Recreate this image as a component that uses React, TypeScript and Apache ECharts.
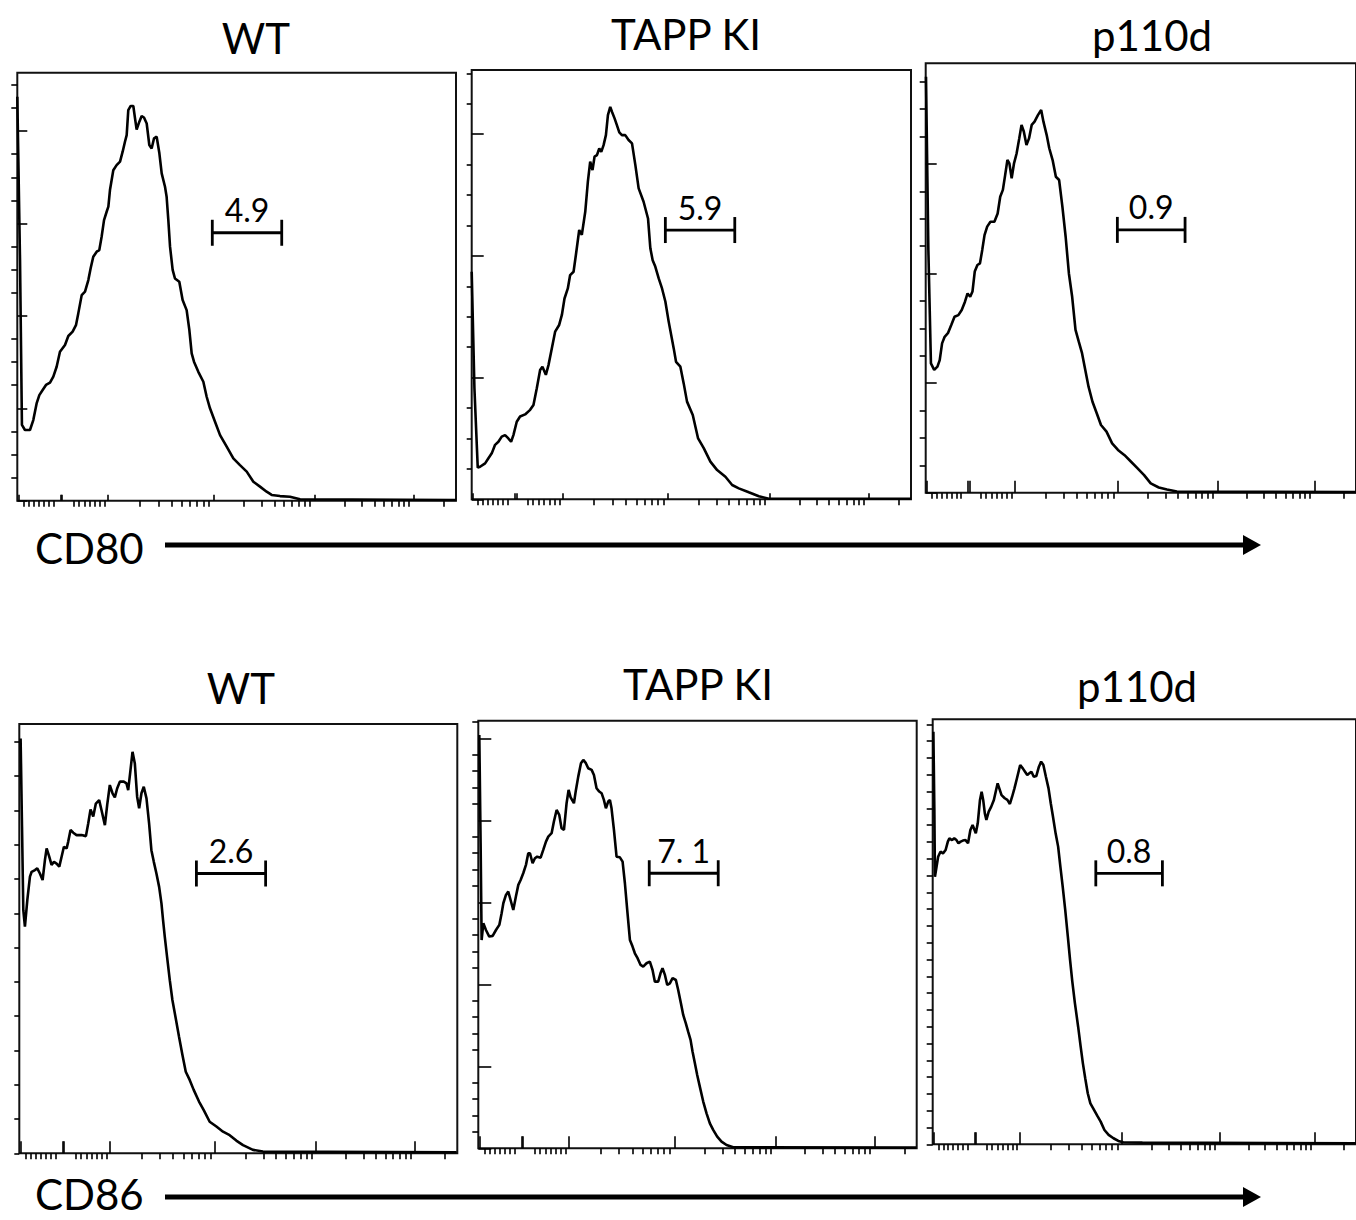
import React, { useEffect, useRef } from "react";
import * as echarts from "echarts";

// ---------- data (x in display decades of the biexponential axis, y in count-tick units) ----------
const titles = ["WT", "TAPP KI", "p110d", "WT", "TAPP KI", "p110d"];
const markerLabels = ["CD80", "CD86"];
const gateLabels = ["4.9", "5.9", "0.9", "2.6", "7. 1", "0.8"];

const cd80WT = [[0,17.49],[0.027,10.42],[0.046,3.28],[0.076,3.06],[0.126,3.06],[0.159,3.49],[0.192,4.21],[0.219,4.57],[0.252,4.79],[0.285,5.01],[0.325,5.11],[0.358,5.37],[0.391,5.8],[0.424,6.45],[0.474,6.74],[0.507,7.13],[0.55,7.32],[0.583,7.6],[0.606,8.11],[0.64,8.9],[0.673,9.05],[0.706,9.55],[0.729,10.06],[0.755,10.56],[0.789,10.78],[0.815,10.85],[0.838,11.43],[0.862,12.15],[0.888,12.51],[0.905,12.73],[0.921,13.45],[0.954,14.31],[0.987,14.53],[1.021,14.68],[1.047,15.11],[1.07,15.54],[1.087,15.83],[1.103,16.91],[1.127,17.09],[1.153,17.09],[1.17,16.55],[1.186,16.07],[1.213,16.41],[1.236,16.65],[1.259,16.59],[1.286,16.33],[1.312,15.4],[1.335,15.25],[1.359,15.69],[1.385,15.76],[1.412,15.04],[1.435,14.17],[1.468,13.59],[1.484,13.16],[1.501,12.15],[1.518,11.0],[1.544,9.99],[1.567,9.62],[1.61,9.48],[1.643,8.69],[1.683,8.25],[1.71,7.39],[1.733,6.38],[1.756,6.02],[1.799,5.58],[1.849,5.15],[1.882,4.5],[1.915,4.0],[1.965,3.42],[2.015,2.84],[2.081,2.34],[2.147,1.83],[2.213,1.54],[2.28,1.26],[2.346,0.82],[2.412,0.61],[2.478,0.39],[2.528,0.25],[2.611,0.2],[2.71,0.17],[2.81,0.06],[4.36,0.03]];

const cd80TAPP = [[0,7.48],[0.027,3.65],[0.06,1.04],[0.083,1.07],[0.133,1.18],[0.166,1.35],[0.199,1.51],[0.232,1.79],[0.265,1.89],[0.298,2.06],[0.331,2.11],[0.364,2.0],[0.391,1.89],[0.414,2.11],[0.447,2.55],[0.48,2.72],[0.53,2.79],[0.58,2.94],[0.613,3.1],[0.646,3.65],[0.679,4.25],[0.702,4.36],[0.736,4.09],[0.762,4.41],[0.795,4.96],[0.828,5.51],[0.868,5.73],[0.895,6.06],[0.921,6.6],[0.954,6.93],[0.977,7.37],[1.011,7.48],[1.034,8.03],[1.067,8.85],[1.093,8.69],[1.127,9.45],[1.153,10.44],[1.176,11.1],[1.199,10.82],[1.219,11.26],[1.243,11.31],[1.266,11.53],[1.286,11.42],[1.309,11.64],[1.332,11.97],[1.352,12.63],[1.375,12.9],[1.392,12.74],[1.418,12.52],[1.441,12.3],[1.465,12.06],[1.491,11.97],[1.524,11.97],[1.557,11.81],[1.591,11.7],[1.624,10.99],[1.657,10.22],[1.706,9.78],[1.75,9.23],[1.773,8.25],[1.796,7.86],[1.822,7.65],[1.856,7.26],[1.889,6.93],[1.922,6.5],[1.955,5.84],[2.005,4.96],[2.028,4.52],[2.071,4.36],[2.104,3.81],[2.137,3.21],[2.194,2.77],[2.247,2.0],[2.303,1.68],[2.369,1.24],[2.436,0.96],[2.518,0.74],[2.585,0.47],[2.651,0.36],[2.75,0.23],[2.85,0.1],[2.949,0.02],[4.36,0.02]];

const cd80P110 = [[0.003,15.18],[0.027,8.86],[0.053,4.72],[0.086,4.48],[0.119,4.6],[0.142,4.84],[0.166,5.45],[0.192,5.69],[0.225,5.82],[0.259,6.12],[0.292,6.42],[0.331,6.48],[0.365,6.67],[0.398,6.97],[0.424,7.27],[0.451,7.15],[0.474,7.34],[0.497,8.07],[0.524,8.31],[0.55,8.37],[0.573,8.86],[0.596,9.4],[0.623,9.71],[0.656,9.89],[0.696,9.89],[0.729,10.19],[0.755,10.8],[0.782,11.05],[0.805,11.59],[0.828,12.14],[0.848,12.02],[0.871,11.47],[0.895,12.02],[0.921,12.38],[0.948,12.93],[0.971,13.42],[0.994,13.18],[1.021,12.69],[1.047,12.93],[1.074,13.42],[1.103,13.54],[1.137,13.78],[1.17,13.97],[1.193,13.54],[1.226,13.05],[1.252,12.57],[1.286,12.14],[1.319,11.53],[1.352,11.41],[1.385,10.44],[1.418,9.34],[1.451,8.0],[1.484,7.15],[1.518,5.94],[1.551,5.51],[1.584,5.09],[1.617,4.48],[1.65,3.87],[1.69,3.32],[1.733,2.9],[1.776,2.47],[1.832,2.23],[1.889,1.8],[1.948,1.56],[2.015,1.37],[2.081,1.13],[2.147,0.89],[2.213,0.64],[2.28,0.34],[2.362,0.19],[2.445,0.12],[2.545,0.04],[4.36,0.02]];

const cd86WT = [[0.013,12.1],[0.027,9.52],[0.04,7.09],[0.056,6.61],[0.08,7.39],[0.106,8.07],[0.123,8.21],[0.156,8.26],[0.179,8.31],[0.205,8.16],[0.232,7.97],[0.255,8.55],[0.272,8.89],[0.298,8.65],[0.321,8.41],[0.345,8.5],[0.371,8.45],[0.398,8.36],[0.421,8.65],[0.444,8.94],[0.471,8.89],[0.487,9.09],[0.51,9.43],[0.537,9.35],[0.57,9.28],[0.62,9.28],[0.663,9.25],[0.686,9.62],[0.709,10.03],[0.736,9.82],[0.762,10.2],[0.795,10.3],[0.818,10.01],[0.852,9.57],[0.875,10.16],[0.901,10.74],[0.928,10.5],[0.951,10.38],[0.974,10.64],[1.001,10.84],[1.04,10.84],[1.067,10.79],[1.084,10.59],[1.107,11.18],[1.127,11.71],[1.15,11.37],[1.173,10.4],[1.193,10.06],[1.216,10.5],[1.239,10.69],[1.266,10.35],[1.292,9.62],[1.315,8.84],[1.339,8.5],[1.365,8.16],[1.392,7.77],[1.415,7.29],[1.431,6.8],[1.448,6.32],[1.471,5.73],[1.498,5.05],[1.524,4.47],[1.557,3.94],[1.59,3.4],[1.624,2.87],[1.657,2.38],[1.696,2.14],[1.736,1.85],[1.789,1.51],[1.836,1.26],[1.895,0.92],[1.962,0.78],[2.028,0.63],[2.094,0.53],[2.16,0.37],[2.227,0.24],[2.326,0.1],[2.425,0.05],[4.354,0.03]];

const cd86TAPP = [[0.01,25.2],[0.023,18.6],[0.033,12.7],[0.05,13.72],[0.076,13.31],[0.109,12.91],[0.143,12.95],[0.176,13.31],[0.209,13.62],[0.232,14.33],[0.249,14.94],[0.275,15.45],[0.298,15.65],[0.321,15.14],[0.348,14.53],[0.374,15.35],[0.398,16.06],[0.421,16.36],[0.447,16.77],[0.474,17.28],[0.497,17.99],[0.514,17.99],[0.54,17.38],[0.563,17.68],[0.586,17.78],[0.62,17.72],[0.646,18.19],[0.673,18.7],[0.696,19.0],[0.729,19.21],[0.752,19.92],[0.779,20.63],[0.805,20.33],[0.828,19.51],[0.852,19.41],[0.878,21.04],[0.898,21.85],[0.918,21.4],[0.951,21.04],[0.971,21.85],[0.994,22.66],[1.021,23.48],[1.044,23.68],[1.07,23.48],[1.093,23.17],[1.127,23.07],[1.15,22.76],[1.176,21.95],[1.203,21.75],[1.226,21.65],[1.249,21.24],[1.269,20.73],[1.292,21.14],[1.309,21.24],[1.325,20.73],[1.349,19.41],[1.375,17.78],[1.408,17.74],[1.435,17.48],[1.458,16.16],[1.481,14.53],[1.508,12.7],[1.534,12.3],[1.557,11.89],[1.584,11.59],[1.614,11.18],[1.64,11.08],[1.673,11.28],[1.706,11.38],[1.733,10.87],[1.756,10.16],[1.789,10.16],[1.812,10.67],[1.832,10.98],[1.856,10.57],[1.879,9.96],[1.905,10.06],[1.932,10.37],[1.965,10.26],[1.988,9.65],[2.015,8.84],[2.038,8.13],[2.064,7.62],[2.087,7.11],[2.111,6.61],[2.131,5.89],[2.154,5.18],[2.177,4.47],[2.203,3.76],[2.237,2.85],[2.27,2.13],[2.303,1.52],[2.336,1.12],[2.376,0.71],[2.419,0.41],[2.469,0.2],[2.535,0.06],[4.357,0.04]];

const cd86P110 = [[0.007,24.56],[0.017,19.9],[0.023,15.93],[0.04,16.53],[0.056,17.12],[0.08,17.42],[0.106,17.32],[0.133,17.52],[0.156,18.02],[0.172,18.21],[0.199,18.11],[0.222,18.21],[0.245,18.11],[0.265,17.92],[0.288,18.02],[0.311,18.08],[0.338,18.11],[0.364,17.92],[0.388,18.71],[0.411,19.01],[0.431,18.71],[0.444,18.51],[0.464,19.11],[0.487,20.5],[0.504,20.99],[0.52,20.5],[0.537,19.7],[0.553,19.31],[0.577,19.8],[0.603,20.1],[0.63,20.5],[0.653,21.09],[0.669,21.49],[0.686,21.19],[0.709,20.79],[0.742,20.6],[0.769,20.5],[0.795,20.26],[0.818,20.69],[0.842,21.19],[0.868,21.79],[0.901,22.58],[0.928,22.38],[0.951,22.18],[0.974,21.98],[0.994,22.08],[1.017,22.18],[1.041,21.88],[1.067,21.92],[1.094,22.48],[1.117,22.78],[1.14,22.58],[1.166,21.88],[1.193,21.19],[1.216,20.3],[1.239,19.5],[1.266,18.51],[1.292,17.72],[1.315,16.53],[1.339,15.34],[1.365,13.95],[1.392,12.36],[1.415,10.97],[1.438,9.68],[1.465,8.39],[1.498,7.0],[1.524,5.81],[1.547,4.82],[1.571,3.93],[1.597,3.04],[1.624,2.44],[1.663,2.04],[1.696,1.69],[1.73,1.35],[1.769,0.85],[1.812,0.56],[1.862,0.36],[1.912,0.2],[1.962,0.12],[2.16,0.1],[4.36,0.06]];

// gates: [start, end, height]
const gateCD80WT = [1.938, 2.628, 11.6];
const gateCD80TAPP = [1.922, 2.611, 8.85];
const gateCD80P110 = [1.942, 2.628, 9.59];
const gateCD86WT = [1.763, 2.452, 8.16];
const gateCD86TAPP = [1.7, 2.386, 16.77];
const gateCD86P110 = [1.68, 2.366, 16.13];

// axis tick positions (display decades)
const X_MAX = 4.36;
const xMajorTicks = [0.013, 0.43, 0.444, 0.9, 1.95, 2.955, 3.94];
const xLinearTicks = [0.06, 0.11, 0.16, 0.21, 0.26, 0.31, 0.36, 0.56, 0.61, 0.67, 0.72, 0.77, 0.82, 0.87];
const decadeStarts = [0.9, 1.95, 2.955, 3.94];
const decadeWidths = [1.05, 1.005, 0.985, 0.985];
const decadeMultipliers = [2, 3, 4, 5, 6, 7, 8, 9];

const curves = [cd80WT, cd80TAPP, cd80P110, cd86WT, cd86TAPP, cd86P110];
const gates = [gateCD80WT, gateCD80TAPP, gateCD80P110, gateCD86WT, gateCD86TAPP, gateCD86P110];
const yMaxes = [18.53, 14.11, 15.67, 12.52, 26.07, 25.3];
const yMajorSteps = [4, 4, 4, 0, 5, 0];

// ---------- layout ----------
const layout = [
  { left: 17.3, top: 72.7, width: 438.7, height: 428, tx: 256, ty: 38, xMajLen: 6, yMajLen: 10, yMinLen: 6 },
  { left: 471.7, top: 70, width: 439.3, height: 429.3, tx: 686, ty: 34, xMajLen: 6, yMajLen: 12, yMinLen: 5 },
  { left: 925.7, top: 63.3, width: 439, height: 429.4, tx: 1152, ty: 35, xMajLen: 12, yMajLen: 11, yMinLen: 6 },
  { left: 19.3, top: 724, width: 438, height: 429.3, tx: 241, ty: 688, xMajLen: 12, yMajLen: 5, yMinLen: 5 },
  { left: 478.3, top: 720.7, width: 438.4, height: 427.6, tx: 698, ty: 684, xMajLen: 12, yMajLen: 13, yMinLen: 6 },
  { left: 932.7, top: 719.3, width: 439, height: 425, tx: 1137, ty: 686, xMajLen: 12, yMajLen: 6, yMinLen: 6 },
];
const markerLayout = [
  { x: 35, y: 548, ay: 545 },
  { x: 35, y: 1194, ay: 1197 },
];
const FONT = "Lato, 'Open Sans', sans-serif";

function xMinorTicks(): number[] {
  const out: number[] = [...xLinearTicks];
  decadeStarts.forEach((s, i) => {
    decadeMultipliers.forEach((m) => {
      const v = s + Math.log10(m) * decadeWidths[i];
      if (v < X_MAX) out.push(v);
    });
  });
  return out;
}

function buildOption() {
  const tickStyle = { color: "#000", width: 1.6 };
  const grid: any[] = [];
  const xAxis: any[] = [];
  const yAxis: any[] = [];
  const series: any[] = [];
  const minorX = xMinorTicks();

  layout.forEach((g, i) => {
    grid.push({
      left: g.left, top: g.top, width: g.width, height: g.height,
      show: true, borderColor: "#111", borderWidth: 2, backgroundColor: "transparent",
    });
    const baseX = { type: "value", gridIndex: i, min: 0, max: X_MAX, axisLine: { show: false }, axisLabel: { show: false }, splitLine: { show: false } };
    xAxis.push({ ...baseX, axisTick: { show: true, customValues: minorX, length: 6, lineStyle: tickStyle } });
    xAxis.push({ ...baseX, axisTick: { show: true, customValues: xMajorTicks, length: g.xMajLen, lineStyle: tickStyle } });

    const yMax = yMaxes[i];
    const step = yMajorSteps[i];
    const all: number[] = [];
    for (let v = 0; v <= Math.floor(yMax); v++) all.push(v);
    const majors = step ? all.filter((v) => v % step === 0) : [];
    const minors = step ? all.filter((v) => v % step !== 0) : all;
    const baseY = { type: "value", gridIndex: i, min: 0, max: yMax, axisLine: { show: false }, axisLabel: { show: false }, splitLine: { show: false } };
    yAxis.push({ ...baseY, axisTick: { show: true, customValues: minors, length: g.yMinLen, lineStyle: tickStyle } });
    yAxis.push({ ...baseY, axisTick: { show: majors.length > 0, customValues: majors.length ? majors : [0], length: g.yMajLen, lineStyle: tickStyle } });

    series.push({
      type: "line", xAxisIndex: 2 * i, yAxisIndex: 2 * i, data: curves[i],
      showSymbol: false, symbol: "none", smooth: false,
      lineStyle: { color: "#000", width: 2.6 }, silent: true,
    });
    const label = gateLabels[i];
    series.push({
      type: "custom", xAxisIndex: 2 * i, yAxisIndex: 2 * i, data: [gates[i]], silent: true,
      renderItem: (_p: any, api: any) => {
        const a = api.coord([api.value(0), api.value(2)]);
        const b = api.coord([api.value(1), api.value(2)]);
        const st = { stroke: "#000", lineWidth: 2.8 };
        return {
          type: "group",
          children: [
            { type: "line", shape: { x1: a[0], y1: a[1], x2: b[0], y2: b[1] }, style: st },
            { type: "line", shape: { x1: a[0], y1: a[1] - 13, x2: a[0], y2: a[1] + 13 }, style: st },
            { type: "line", shape: { x1: b[0], y1: b[1] - 13, x2: b[0], y2: b[1] + 13 }, style: st },
            {
              type: "text",
              style: { text: label, x: (a[0] + b[0]) / 2, y: a[1] - 7, align: "center", verticalAlign: "bottom", fontSize: 32, fontFamily: FONT, fill: "#000" },
            },
          ],
        };
      },
    });
  });

  const graphic: any[] = [];
  layout.forEach((g, i) => {
    graphic.push({ type: "text", x: g.tx, y: g.ty, style: { text: titles[i], fontSize: 42, fontFamily: FONT, fill: "#000", align: "center", verticalAlign: "middle" } });
  });
  markerLayout.forEach((m, i) => {
    graphic.push({ type: "text", x: m.x, y: m.y, style: { text: markerLabels[i], fontSize: 42, fontFamily: FONT, fill: "#000", align: "left", verticalAlign: "middle" } });
    graphic.push({ type: "line", shape: { x1: 165, y1: m.ay, x2: 1246, y2: m.ay }, style: { stroke: "#000", lineWidth: 5 } });
    graphic.push({ type: "polygon", shape: { points: [[1243, m.ay - 10], [1261, m.ay], [1243, m.ay + 10]] }, style: { fill: "#000" } });
  });

  return { animation: false, backgroundColor: "#fff", grid, xAxis, yAxis, series, graphic };
}

export default function App() {
  const ref = useRef<HTMLDivElement>(null);
  useEffect(() => {
    if (!ref.current) return;
    const chart = echarts.init(ref.current, null, { renderer: "svg" });
    chart.setOption(buildOption() as any);
    return () => chart.dispose();
  }, []);
  return <div ref={ref} style={{ position: "absolute", left: 0, top: 0, width: 1356, height: 1220, background: "#fff" }} />;
}
